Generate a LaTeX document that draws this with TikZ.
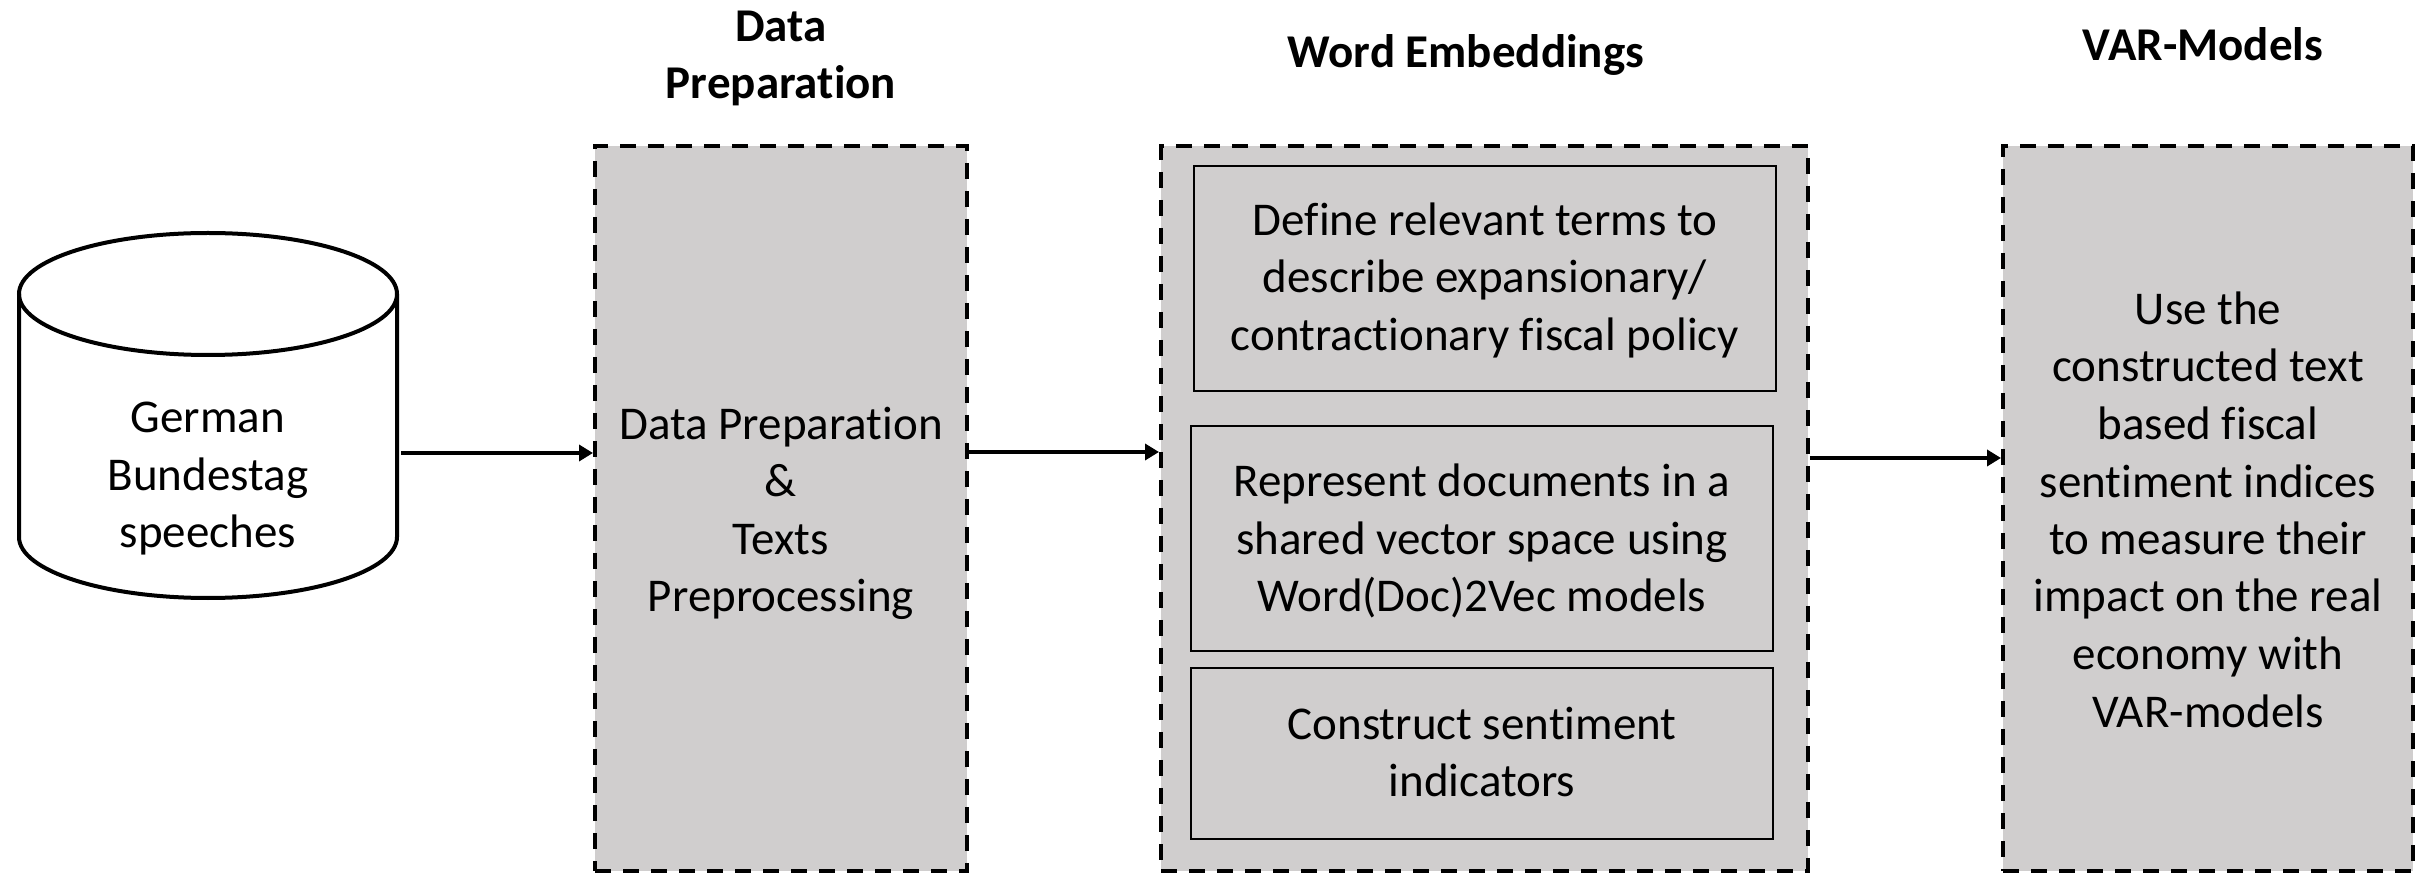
\documentclass[tikz,border=0pt]{standalone}
\usepackage{fontspec}
\setmainfont{Carlito}[Ligatures=NoCommon]
\usetikzlibrary{arrows.meta}
\definecolor{panelgray}{RGB}{208,206,206}
\tikzset{
  txt/.style={font=\fontsize{11.75pt}{14.375pt}\selectfont, align=center,
    inner sep=0pt, anchor=base},
  title/.style={txt, font=\fontsize{11.75pt}{14.375pt}\selectfont\bfseries},
  stage/.style={draw=black, fill=panelgray, line width=1pt, inner sep=0pt,
    dash pattern=on 4pt off 3pt},
  substep/.style={draw=black, fill=panelgray, line width=0.5pt, inner sep=0pt,
    minimum width=145.5pt},
  arr/.style={line width=1pt, -{Triangle[length=3.5pt,width=4pt]}},
  drum/.style={line width=1pt}
}
\begin{document}
\begin{tikzpicture}[x=0.25pt, y=-0.25pt]
\useasboundingbox (0,0) rectangle (2430,876);

% database cylinder
\draw[drum] (208,294) ellipse [x radius=47.25pt, y radius=15.25pt];
\draw[drum] (19,294) -- (19,537)
  arc[start angle=180, end angle=360, x radius=47.25pt, y radius=15.25pt]
  -- (397,294);
% (multi-line text nodes sit on the baseline of their last line)
\node[txt] (db) at (208,548) {German\\Bundestag\\speeches};

% stage titles
\node[title] (t1) at (781,99) {Data\\Preparation};
\node[title] (t2) at (1466,68) {Word Embeddings};
\node[title] (t3) at (2203,61) {VAR-Models};

% stage panels
\node[stage, minimum width=93pt, minimum height=181.25pt] (prep) at (781,508.5) {};
\node[stage, minimum width=161.75pt, minimum height=181.125pt] (emb) at (1484.5,508.75) {};
\node[stage, minimum width=102.5pt, minimum height=181.25pt] (var) at (2208,508.5) {};

% steps inside the word embedding panel
\node[substep, minimum height=56.25pt] (s1) at (1485,278.5) {};
\node[substep, minimum height=56.25pt] (s2) at (1482,538.5) {};
\node[substep, minimum height=42.75pt] (s3) at (1482,753.5) {};

% panel texts
\node[txt] (preptext) at (781,612) {Data Preparation\\\&\\Texts\\Preprocessing};
\node[txt] (s1text) at (1485,350.5)
  {Define relevant terms to\\describe expansionary/\\contractionary fiscal policy};
\node[txt] (s2text) at (1482,612)
  {Represent documents in a\\shared vector space using\\Word(Doc)2Vec models};
\node[txt] (s3text) at (1482,796.5) {Construct sentiment\\indicators};
\node[txt] (vartext) at (2208,727)
  {Use the\\constructed text\\based fiscal\\sentiment indices\\to measure their\\impact on the real\\economy with\\VAR-models};

% connectors
\coordinate (dbout) at (401,453);
\draw[arr] (dbout) -- (dbout -| prep.west);
\coordinate (prepout) at ([yshift=14.125pt]prep.east);
\draw[arr] (prepout) -- (prepout -| emb.west);
\coordinate (embout) at ([yshift=12.69pt]emb.east);
\draw[arr] (embout) -- (embout -| var.west);
\end{tikzpicture}
\end{document}
